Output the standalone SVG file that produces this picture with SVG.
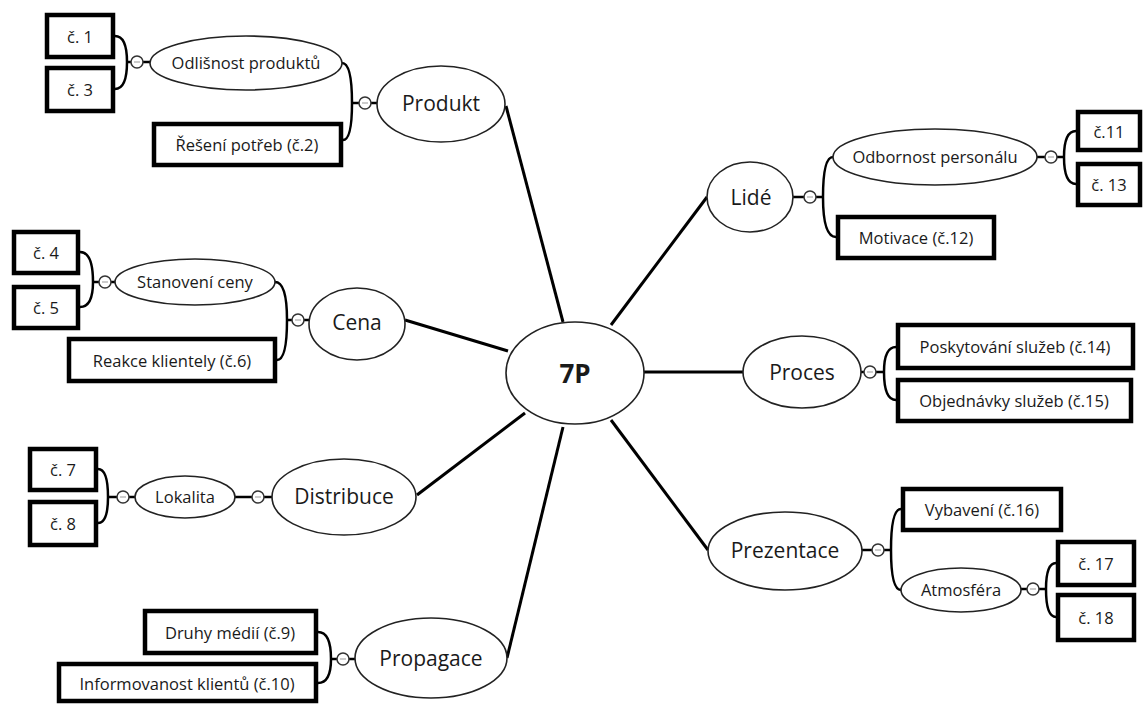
<svg xmlns="http://www.w3.org/2000/svg" width="1148" height="704" viewBox="0 0 1148 704">
<style>
text{font-family:"Open Sans","Noto Sans","DejaVu Sans",sans-serif;fill:#1a1a1a;text-anchor:middle;dominant-baseline:central}
.big{font-size:21px}
.sm{font-size:16.5px}
.core{font-size:26px;font-weight:bold}
.el{fill:#fff;stroke:#222;stroke-width:1.6}
.bx{fill:#fff;stroke:#000;stroke-width:4.5}
.main{stroke:#000;stroke-width:3;fill:none}
.br{stroke:#000;stroke-width:2.5;fill:none}
.tg{fill:#fff;stroke:#333;stroke-width:1.5}
.mn{stroke:#bbb;stroke-width:1.5}
</style>
<rect width="1148" height="704" fill="#fff"/>
<g id="connectors">
<!-- main spokes -->
<line class="main" x1="563" y1="322" x2="506" y2="106"/>
<line class="main" x1="508" y1="351" x2="405" y2="320"/>
<line class="main" x1="525" y1="413" x2="417" y2="495"/>
<line class="main" x1="563" y1="427" x2="507" y2="658"/>
<line class="main" x1="611" y1="325" x2="707" y2="197"/>
<line class="main" x1="644" y1="372" x2="743" y2="372"/>
<line class="main" x1="611" y1="420" x2="708" y2="550"/>
<!-- Produkt -->
<path class="br" d="M377 103 H352 M352 103 Q352 63 342 63 M352 103 Q352 140 343 140"/>
<path class="br" d="M150 62 H127 M127 62 Q127 36 115 36 M127 62 Q127 89 115 89"/>
<!-- Cena -->
<path class="br" d="M309 320 H287 M287 320 Q287 282 275 282 M287 320 Q287 360 277 360"/>
<path class="br" d="M115 282 H93 M93 282 Q93 252 80 252 M93 282 Q93 307 80 307"/>
<!-- Distribuce -->
<path class="br" d="M272 497 H235"/>
<path class="br" d="M135 497 H108 M108 497 Q108 469 98 469 M108 497 Q108 523 98 523"/>
<!-- Propagace -->
<path class="br" d="M355 659 H331 M331 659 Q331 632 318 632 M331 659 Q331 683 318 683"/>
<!-- Lide -->
<path class="br" d="M793 197 H823 M823 197 Q823 157 833 157 M823 197 Q823 237 836 237"/>
<path class="br" d="M1037 157 H1064 M1064 157 Q1064 131 1076 131 M1064 157 Q1064 184 1076 184"/>
<!-- Proces -->
<path class="br" d="M861 372 H884 M884 372 Q884 347 896 347 M884 372 Q884 400 896 400"/>
<!-- Prezentace -->
<path class="br" d="M862 550 H891 M891 550 Q891 509 901 509 M891 550 Q891 590 901 590"/>
<path class="br" d="M1021 589 H1046 M1046 589 Q1046 563 1056 563 M1046 589 Q1046 617 1056 617"/>
</g>
<g id="toggles">
<circle class="tg" cx="365" cy="103" r="6"/><line class="mn" x1="362" y1="103" x2="368" y2="103"/>
<circle class="tg" cx="137" cy="62" r="6"/><line class="mn" x1="134" y1="62" x2="140" y2="62"/>
<circle class="tg" cx="298" cy="320" r="6"/><line class="mn" x1="295" y1="320" x2="301" y2="320"/>
<circle class="tg" cx="105" cy="282" r="6"/><line class="mn" x1="102" y1="282" x2="108" y2="282"/>
<circle class="tg" cx="258" cy="497" r="6"/><line class="mn" x1="255" y1="497" x2="261" y2="497"/>
<circle class="tg" cx="123" cy="497" r="6"/><line class="mn" x1="120" y1="497" x2="126" y2="497"/>
<circle class="tg" cx="343" cy="659" r="6"/><line class="mn" x1="340" y1="659" x2="346" y2="659"/>
<circle class="tg" cx="810" cy="197" r="6"/><line class="mn" x1="807" y1="197" x2="813" y2="197"/>
<circle class="tg" cx="1051" cy="157" r="6"/><line class="mn" x1="1048" y1="157" x2="1054" y2="157"/>
<circle class="tg" cx="870" cy="372" r="6"/><line class="mn" x1="867" y1="372" x2="873" y2="372"/>
<circle class="tg" cx="878" cy="550" r="6"/><line class="mn" x1="875" y1="550" x2="881" y2="550"/>
<circle class="tg" cx="1033" cy="589" r="6"/><line class="mn" x1="1030" y1="589" x2="1036" y2="589"/>
</g>
<g id="n-7p"><ellipse class="el" cx="575" cy="373" rx="69" ry="51"/><text class="core" x="575" y="373">7P</text></g>
<g id="n-produkt"><ellipse class="el" cx="441" cy="104" rx="64" ry="38"/><text class="big" x="441" y="103">Produkt</text></g>
<g id="n-odlisnost"><ellipse class="el" cx="246" cy="63" rx="96" ry="27"/><text class="sm" x="246" y="62">Odlišnost produktů</text></g>
<g id="n-c1"><rect class="bx" x="47" y="15" width="66" height="42"/><text class="sm" x="80" y="36">č. 1</text></g>
<g id="n-c3"><rect class="bx" x="47" y="68" width="66" height="43"/><text class="sm" x="80" y="89">č. 3</text></g>
<g id="n-reseni"><rect class="bx" x="154" y="124" width="187" height="41"/><text class="sm" x="247" y="144">Řešení potřeb (č.2)</text></g>
<g id="n-cena"><ellipse class="el" cx="357" cy="324" rx="48" ry="36"/><text class="big" x="357" y="322">Cena</text></g>
<g id="n-stanoveni"><ellipse class="el" cx="195" cy="282" rx="80" ry="23"/><text class="sm" x="195" y="281">Stanovení ceny</text></g>
<g id="n-c4"><rect class="bx" x="14" y="232" width="64" height="41"/><text class="sm" x="46" y="252">č. 4</text></g>
<g id="n-c5"><rect class="bx" x="14" y="287" width="64" height="41"/><text class="sm" x="46" y="307">č. 5</text></g>
<g id="n-reakce"><rect class="bx" x="69" y="339" width="206" height="42"/><text class="sm" x="172" y="360">Reakce klientely (č.6)</text></g>
<g id="n-distribuce"><ellipse class="el" cx="344" cy="497" rx="72" ry="38"/><text class="big" x="344" y="496">Distribuce</text></g>
<g id="n-lokalita"><ellipse class="el" cx="185" cy="497" rx="50" ry="21"/><text class="sm" x="185" y="496">Lokalita</text></g>
<g id="n-c7"><rect class="bx" x="30" y="449" width="66" height="41"/><text class="sm" x="63" y="469">č. 7</text></g>
<g id="n-c8"><rect class="bx" x="30" y="502" width="66" height="43"/><text class="sm" x="63" y="523">č. 8</text></g>
<g id="n-propagace"><ellipse class="el" cx="431" cy="658" rx="76" ry="40"/><text class="big" x="431" y="658">Propagace</text></g>
<g id="n-druhy"><rect class="bx" x="145" y="611" width="171" height="42"/><text class="sm" x="230" y="632">Druhy médií (č.9)</text></g>
<g id="n-informovanost"><rect class="bx" x="59" y="664" width="257" height="37"/><text class="sm" x="187" y="683">Informovanost klientů (č.10)</text></g>
<g id="n-lide"><ellipse class="el" cx="750" cy="197" rx="43" ry="35"/><text class="big" x="751" y="197">Lidé</text></g>
<g id="n-odbornost"><ellipse class="el" cx="935" cy="157" rx="102" ry="28"/><text class="sm" x="935" y="156">Odbornost personálu</text></g>
<g id="n-c11"><rect class="bx" x="1078" y="112" width="62" height="38"/><text class="sm" x="1109" y="131">č.11</text></g>
<g id="n-c13"><rect class="bx" x="1078" y="164" width="62" height="41"/><text class="sm" x="1109" y="184">č. 13</text></g>
<g id="n-motivace"><rect class="bx" x="838" y="217" width="156" height="41"/><text class="sm" x="916" y="237">Motivace (č.12)</text></g>
<g id="n-proces"><ellipse class="el" cx="802" cy="372" rx="59" ry="36"/><text class="big" x="802" y="372">Proces</text></g>
<g id="n-poskytovani"><rect class="bx" x="898" y="325" width="235" height="43"/><text class="sm" x="1015" y="346">Poskytování služeb (č.14)</text></g>
<g id="n-objednavky"><rect class="bx" x="898" y="380" width="233" height="41"/><text class="sm" x="1014" y="400">Objednávky služeb (č.15)</text></g>
<g id="n-prezentace"><ellipse class="el" cx="785" cy="551" rx="77" ry="39"/><text class="big" x="785" y="550">Prezentace</text></g>
<g id="n-vybaveni"><rect class="bx" x="903" y="489" width="158" height="41"/><text class="sm" x="982" y="509">Vybavení (č.16)</text></g>
<g id="n-atmosfera"><ellipse class="el" cx="961" cy="590" rx="60" ry="22"/><text class="sm" x="961" y="589">Atmosféra</text></g>
<g id="n-c17"><rect class="bx" x="1058" y="542" width="76" height="43"/><text class="sm" x="1096" y="563">č. 17</text></g>
<g id="n-c18"><rect class="bx" x="1058" y="595" width="76" height="45"/><text class="sm" x="1096" y="617">č. 18</text></g>
</svg>
